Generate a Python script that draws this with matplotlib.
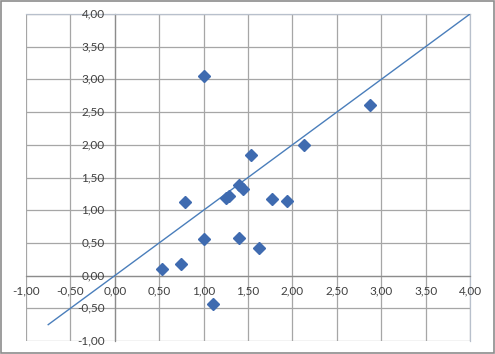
import matplotlib
matplotlib.use("Agg")
import matplotlib.pyplot as plt
from matplotlib.patches import Rectangle

x_vals = [1.00, 1.53, 2.13, 2.87, 0.79, 1.25, 1.29, 1.40, 1.44, 1.00, 1.40, 0.53, 0.74, 1.11, 1.77, 1.94, 1.62]
y_vals = [3.05, 1.85, 2.00, 2.61, 1.12, 1.18, 1.21, 1.38, 1.33, 0.56, 0.58, 0.10, 0.18, -0.44, 1.17, 1.14, 0.42]
line_x = [-0.75, 4.0]
line_y = [-0.75, 4.0]
ticks = [-1.0, -0.5, 0.0, 0.5, 1.0, 1.5, 2.0, 2.5, 3.0, 3.5, 4.0]
tick_labels = [f"{t:.2f}".replace(".", ",") for t in ticks]

plt.rcParams["font.family"] = ["Lato", "DejaVu Sans"]

fig = plt.figure(figsize=(4.95, 3.54), dpi=100)
fig.patches.append(Rectangle((0.002, 0.003), 0.995, 0.994, transform=fig.transFigure,
                             fill=False, edgecolor="#8c8c8c", linewidth=1.2))
ax = fig.add_axes([26 / 495, 13 / 354, 444 / 495, 327 / 354])

grid_col = "#a6a6a6"
ax.set_xlim(-1, 4)
ax.set_ylim(-1, 4)
ax.set_xticks(ticks)
ax.set_yticks(ticks)
ax.grid(True, color=grid_col, linewidth=0.9)
ax.set_axisbelow(True)
ax.tick_params(length=0, labelleft=False, labelbottom=False)
for side in ["top", "right"]:
    ax.spines[side].set_color("#b8c0cc")
    ax.spines[side].set_linewidth(0.9)
ax.spines["left"].set_position(("data", 0))
ax.spines["bottom"].set_position(("data", 0))
for side in ["left", "bottom"]:
    ax.spines[side].set_color("#8c8c8c")
    ax.spines[side].set_linewidth(0.9)

ax.plot(line_x, line_y, color="#4a7ebb", linewidth=1.0, zorder=3)
ax.plot(x_vals, y_vals, linestyle="none", marker="D", markersize=6.2,
        color="#3f6bb0", markeredgecolor="#3f6bb0", zorder=4)

# axis labels sit next to the zero axes, Excel style
lab_col = "#404040"
for t, lab in zip(ticks, tick_labels):
    ax.annotate(lab, (0, t), xytext=(-10, 0), textcoords="offset pixels",
                ha="right", va="center", fontsize=8.5, color=lab_col)
    ax.annotate(lab, (t, 0), xytext=(0, -15), textcoords="offset pixels",
                ha="center", va="center", fontsize=8.5, color=lab_col)

fig.savefig("out.png", dpi=100)
